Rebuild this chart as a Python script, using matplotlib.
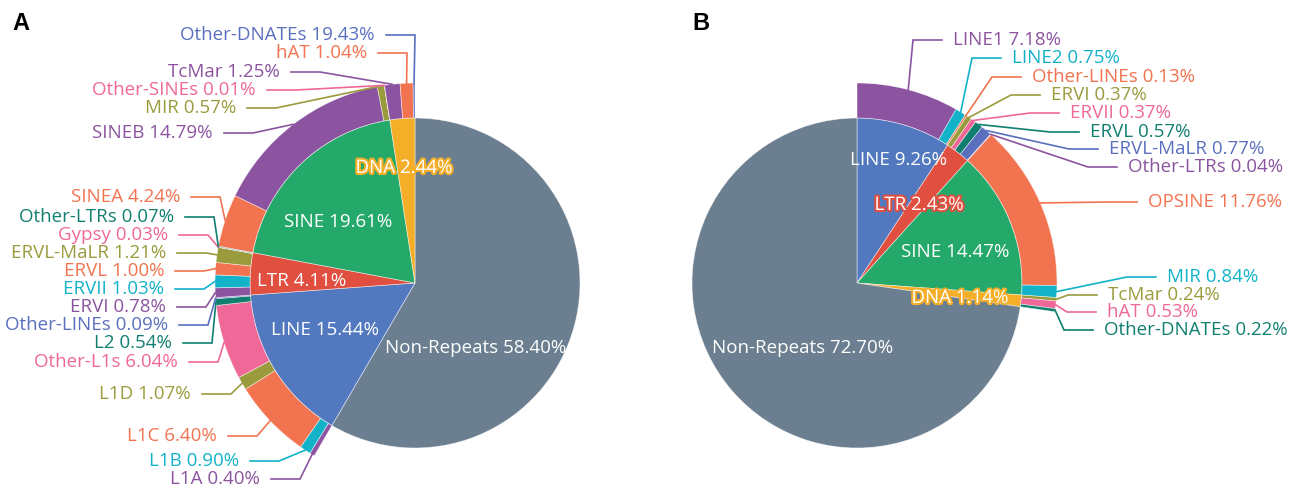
import numpy as np
import matplotlib.pyplot as plt
import matplotlib.patheffects as pe

plt.rcParams['font.family'] = ['Open Sans', 'DejaVu Sans']

W, H = 1298, 488

# ---- panel A data ----
a_main_names = ["Non-Repeats", "LINE", "LTR", "SINE", "DNA"]
a_main_vals = [58.40, 15.44, 4.11, 19.61, 2.44]

a_sub_names = ["L1A", "L1B", "L1C", "L1D", "Other-L1s", "L2", "Other-LINEs",
               "ERVI", "ERVII", "ERVL", "ERVL-MaLR", "Gypsy", "Other-LTRs",
               "SINEA", "SINEB", "MIR", "Other-SINEs",
               "TcMar", "hAT", "Other-DNATEs"]
a_sub_vals = [0.40, 0.90, 6.40, 1.07, 6.04, 0.54, 0.09,
              0.78, 1.03, 1.00, 1.21, 0.03, 0.07,
              4.24, 14.79, 0.57, 0.01,
              1.25, 1.04, 0.15]
# percentages printed next to each segment (Other-DNATEs is printed as 19.43)
a_sub_printed = [0.40, 0.90, 6.40, 1.07, 6.04, 0.54, 0.09,
                 0.78, 1.03, 1.00, 1.21, 0.03, 0.07,
                 4.24, 14.79, 0.57, 0.01,
                 1.25, 1.04, 19.43]

# ---- panel B data ----
b_main_names = ["LINE", "LTR", "SINE", "DNA", "Non-Repeats"]
b_main_vals = [9.26, 2.43, 14.47, 1.14, 72.70]

b_sub_names = ["LINE1", "LINE2", "Other-LINEs",
               "ERVI", "ERVII", "ERVL", "ERVL-MaLR", "Other-LTRs",
               "OPSINE", "MIR",
               "TcMar", "hAT", "Other-DNATEs"]
b_sub_vals = [7.18, 0.75, 0.13,
              0.37, 0.37, 0.57, 0.77, 0.04,
              11.76, 0.84,
              0.24, 0.53, 0.22]

# ---- colours ----
PURPLE, CYAN, ORANGE, OLIVE = '#8C54A0', '#12B2C9', '#F27350', '#9A9B3C'
PINK, TEAL, BLUE = '#EF6898', '#117F70', '#5A6FBE'
main_color = {"Non-Repeats": '#6C7F90', "LINE": '#5279BF', "LTR": '#E04F40',
              "SINE": '#25A96B', "DNA": '#F4AE27'}

a_sub_colors = [PURPLE, CYAN, ORANGE, OLIVE, PINK, TEAL, BLUE,
                PURPLE, CYAN, ORANGE, OLIVE, PINK, TEAL,
                ORANGE, PURPLE, OLIVE, PINK,
                PURPLE, ORANGE, BLUE]
b_sub_colors = [PURPLE, CYAN, ORANGE,
                OLIVE, PINK, TEAL, BLUE, PURPLE,
                ORANGE, CYAN,
                OLIVE, PINK, TEAL]

# ---- layout (pixel coords, y from top) ----
a_center = (415, 283)
b_center = (857, 283)
R_IN, R_OUT = 165, 200

# text right edge / y for panel A labels
a_label_x = [260, 239, 217, 191, 178, 172, 168,
             166, 164, 164, 166, 168, 174,
             180, 213, 236, 256,
             280, 367, 375]
a_label_y = [479, 461, 436, 394, 362, 343, 325,
             307, 289, 271, 253, 235, 217,
             197, 133, 108, 90,
             72, 53, 35]
# text left edge / y for panel B labels
b_label_x = [953, 1012, 1032, 1051, 1070, 1090, 1109, 1128,
             1148, 1167, 1108, 1107, 1104]
b_label_y = [40, 58, 77, 95, 113, 132, 149, 167,
             202, 277, 295, 312, 330]

# inner label offsets from pie centre (px), and which texts get an outline
a_inner_pos = {"Non-Repeats": (61, 65), "LINE": (-90, 47), "LTR": (-113, -2),
               "SINE": (-77, -61), "DNA": (-11, -115)}
b_inner_pos = {"LINE": (41, -123), "LTR": (62, -78), "SINE": (98, -31),
               "DNA": (103, 15), "Non-Repeats": (-54, 65)}
a_outlined = ["DNA"]
b_outlined = ["LTR", "DNA"]

FS = 13.5


def to_data(x, y):
    return x, H - y


def draw_panel(ax, center, main_names, main_vals, sub_names, sub_vals,
               sub_printed, sub_colors, lab_x, lab_y, side, inner_pos,
               outlined):
    cx, cy = to_data(*center)
    edge = dict(edgecolor=(1, 1, 1, 0.6), linewidth=0.5)

    ax.pie(main_vals, radius=R_IN, center=(cx, cy), startangle=90,
           counterclock=False, colors=[main_color[n] for n in main_names],
           wedgeprops=edge)

    # outer ring spans the same angular range as the repeat classes
    rep_total = sum(v for n, v in zip(main_names, main_vals) if n != "Non-Repeats")
    nonrep = main_vals[main_names.index("Non-Repeats")]
    scale = rep_total / sum(sub_vals)
    ring = [v * scale for v in sub_vals]
    nonrep_first = main_names[0] == "Non-Repeats"
    vals = [nonrep] + ring if nonrep_first else ring + [nonrep]
    cols = ['none'] + sub_colors if nonrep_first else sub_colors + ['none']
    wedges, _ = ax.pie(vals, radius=R_OUT, center=(cx, cy), startangle=90,
                       counterclock=False, colors=cols,
                       wedgeprops=dict(width=R_OUT - R_IN, **edge))
    if nonrep_first:
        wedges[0].set_visible(False)
        wedges = wedges[1:]
    else:
        wedges[-1].set_visible(False)
        wedges = wedges[:-1]

    for w, name, pct, col, lx, ly in zip(wedges, sub_names, sub_printed,
                                         sub_colors, lab_x, lab_y):
        mid = np.deg2rad((w.theta1 + w.theta2) / 2)
        ax_, ay_ = cx + R_OUT * np.cos(mid), cy + R_OUT * np.sin(mid)
        tx, ty = to_data(lx, ly)
        if side == 'left':
            xs = [tx + 11, tx + 40, ax_]
            ha = 'right'
        else:
            xs = [tx - 11, tx - 40, ax_]
            ha = 'left'
        ax.plot(xs, [ty, ty, ay_], color=col, lw=1.2, solid_joinstyle='miter')
        ax.text(tx, ty, f"{name} {pct:.2f}%", color=col, fontsize=FS,
                ha=ha, va='center')

    for name, val in zip(main_names, main_vals):
        dx, dy = inner_pos[name]
        effects = None
        if name in outlined:
            effects = [pe.withStroke(linewidth=3, foreground=main_color[name])]
        ax.text(cx + dx, cy - dy, f"{name} {val:.2f}%", color='white',
                fontsize=FS, ha='center', va='center', path_effects=effects)


fig = plt.figure(figsize=(W / 100, H / 100), dpi=100)
ax = fig.add_axes([0, 0, 1, 1])

draw_panel(ax, a_center, a_main_names, a_main_vals, a_sub_names, a_sub_vals,
           a_sub_printed, a_sub_colors, a_label_x, a_label_y, 'left',
           a_inner_pos, a_outlined)
draw_panel(ax, b_center, b_main_names, b_main_vals, b_sub_names, b_sub_vals,
           b_sub_vals, b_sub_colors, b_label_x, b_label_y, 'right',
           b_inner_pos, b_outlined)

for letter, x in [("A", 12), ("B", 692)]:
    ax.text(x, H - 23, letter, fontsize=17, fontweight='bold',
            family='Liberation Sans', ha='left', va='center')

ax.set_xlim(0, W)
ax.set_ylim(0, H)
ax.set_aspect('equal')
ax.axis('off')

fig.savefig("out.png", dpi=100, facecolor='white')
